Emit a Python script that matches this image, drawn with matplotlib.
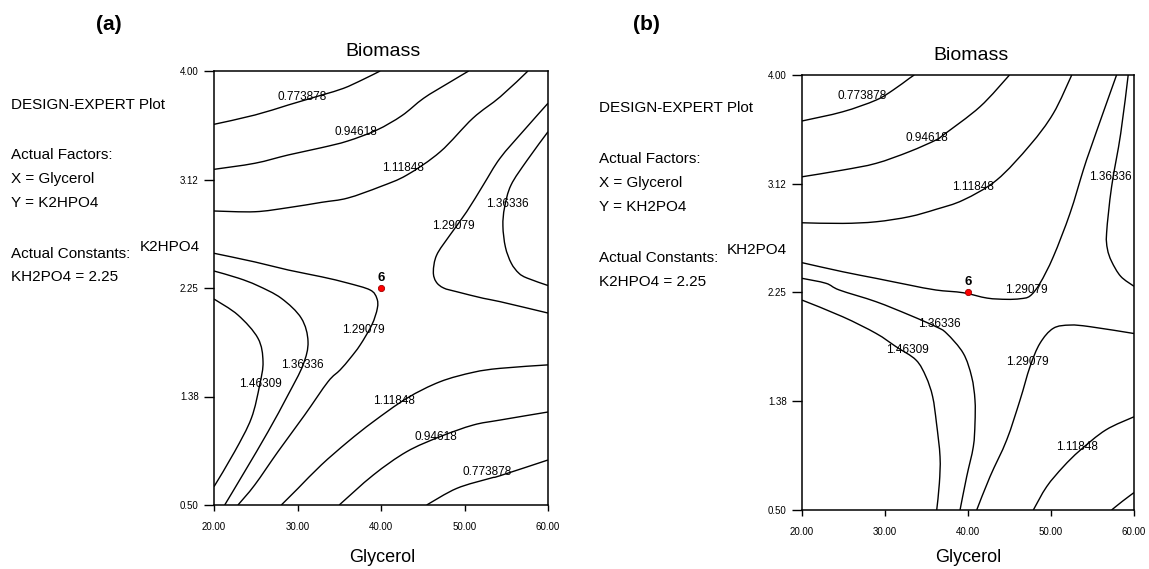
import matplotlib.pyplot as plt
from matplotlib.path import Path
from matplotlib.patches import PathPatch

plt.rcParams['font.family'] = ['Liberation Sans', 'DejaVu Sans']

# contour levels printed by Design-Expert
levels = [0.773878, 0.94618, 1.11848, 1.29079, 1.36336, 1.46309]

x_ticks = [20, 30, 40, 50, 60]
x_tick_labels = ['20.00', '30.00', '40.00', '50.00', '60.00']
y_ticks = [0.5, 1.375, 2.25, 3.125, 4.0]
y_tick_labels = ['0.50', '1.38', '2.25', '3.12', '4.00']

# design point (run 6)
design_x = 40
design_y = 2.25
design_run = '6'

# ---- panel (a): X = Glycerol, Y = K2HPO4 (KH2PO4 = 2.25) ----
a_0773_top_x = [20, 24.9, 28.9, 32.9, 35.5, 37.8, 39.9]
a_0773_top_y = [3.57, 3.645, 3.726, 3.806, 3.86, 3.93, 4.0]
a_0946_top_x = [20, 24.9, 28.9, 32.9, 36.0, 39.5, 42.5, 45.1, 48.0, 50.5]
a_0946_top_y = [3.207, 3.256, 3.323, 3.382, 3.435, 3.524, 3.64, 3.78, 3.9, 4.0]
a_1118_top_x = [20, 24.9, 28.9, 32.9, 36.0, 39.9, 43.1, 47.1, 51.0, 54.3, 57.6]
a_1118_top_y = [2.871, 2.865, 2.898, 2.941, 2.975, 3.067, 3.161, 3.349, 3.619, 3.793, 4.0]
a_1291_left_x = [20, 24.9, 28.9, 32.9, 36.0, 38.7, 39.5, 39.56, 38.9, 37.5, 36.3,
                 35.1, 33.65, 30.86, 27.66, 24.87, 22.87]
a_1291_left_y = [2.53, 2.46, 2.395, 2.34, 2.29, 2.234, 2.167, 2.086, 1.952, 1.79, 1.683,
                 1.589, 1.494, 1.226, 0.93, 0.661, 0.5]
a_1363_left_x = [20, 22.9, 25.2, 28.06, 30.46, 31.26, 30.66, 28.86, 26.47, 23.67, 21.28]
a_1363_left_y = [2.387, 2.33, 2.27, 2.167, 2.006, 1.817, 1.629, 1.387, 1.091, 0.769, 0.5]
a_1463_x = [20, 22.87, 25.27, 25.87, 25.47, 24.47, 22.47, 20]
a_1463_y = [2.161, 2.032, 1.844, 1.656, 1.468, 1.199, 0.93, 0.648]
a_1118_low_x = [28.06, 30.06, 32.85, 36.05, 39.08, 43.08, 47.07, 51.05, 54.25, 60]
a_1118_low_y = [0.5, 0.634, 0.823, 1.011, 1.172, 1.36, 1.494, 1.57, 1.602, 1.63]
a_0946_low_x = [35.0, 39.08, 43.08, 47.07, 51.05, 54.25, 60]
a_0946_low_y = [0.5, 0.742, 0.93, 1.051, 1.145, 1.185, 1.25]
a_0773_low_x = [45.47, 49.07, 53.05, 54.25, 60]
a_0773_low_y = [0.5, 0.634, 0.715, 0.736, 0.863]
a_1291_right_x = [60, 57.1, 54.25, 52.25, 50.26, 48.26, 46.67, 46.27, 46.6, 47.5,
                  49.07, 52.25, 54.25, 60]
a_1291_right_y = [3.74, 3.52, 3.296, 3.081, 2.865, 2.677, 2.516, 2.381, 2.3, 2.25,
                  2.22, 2.167, 2.14, 2.048]
a_1363_right_x = [60, 57.5, 55.57, 54.8, 54.6, 54.9, 55.6, 56.5, 57.5, 60]
a_1363_right_y = [3.51, 3.28, 3.08, 2.9, 2.75, 2.58, 2.45, 2.37, 2.33, 2.27]

# ---- panel (b): X = Glycerol, Y = KH2PO4 (K2HPO4 = 2.25) ----
b_0773_x = [20, 24.9, 28.92, 31.0, 32.93, 33.53]
b_0773_y = [3.63, 3.704, 3.798, 3.88, 3.973, 4.0]
b_0946_x = [20, 24.9, 28.92, 32.93, 36.14, 37.02, 41.45, 45.0]
b_0946_y = [3.181, 3.235, 3.289, 3.383, 3.477, 3.517, 3.745, 4.0]
b_1118_top_x = [20, 24.9, 28.92, 32.93, 36.14, 39.43, 43.46, 47.47, 50.28, 52.5]
b_1118_top_y = [2.811, 2.806, 2.819, 2.86, 2.919, 2.994, 3.155, 3.436, 3.691, 4.0]
b_1291_top_x = [20, 24.9, 28.92, 32.93, 36.14, 39.43, 42.3, 44.66, 46.3, 47.47, 48.67,
                50.28, 52.29, 53.89, 54.7, 56.3, 57.9]
b_1291_top_y = [2.49, 2.417, 2.364, 2.31, 2.27, 2.248, 2.205, 2.195, 2.2, 2.222, 2.324,
                2.538, 2.887, 3.235, 3.396, 3.7, 4.0]
b_1363_left_x = [20, 22.89, 24.5, 28.92, 32.93, 36.14, 37.43, 39.43, 40.44, 40.84,
                 40.84, 40.64, 39.84, 39.04]
b_1363_left_y = [2.364, 2.324, 2.27, 2.176, 2.069, 1.975, 1.921, 1.761, 1.572, 1.385,
                 1.197, 1.009, 0.768, 0.5]
b_1463_x = [20, 24.9, 28.92, 31.33, 33.73, 34.94, 35.74, 36.2, 36.63, 36.55, 36.23]
b_1463_y = [2.189, 2.055, 1.921, 1.814, 1.707, 1.572, 1.412, 1.2, 0.929, 0.715, 0.5]
b_1291_low_x = [41.05, 42.65, 44.66, 46.27, 47.47, 48.67, 50.28, 52.29, 54.7, 60]
b_1291_low_y = [0.5, 0.768, 1.063, 1.385, 1.653, 1.841, 1.962, 1.988, 1.975, 1.92]
b_1363_right_x = [59.3, 58.4, 57.3, 56.7, 56.8, 57.3, 58.4, 60]
b_1363_right_y = [4.0, 3.53, 3.1, 2.73, 2.6, 2.5, 2.38, 2.30]
b_1118_low_x = [47.87, 49.48, 51.48, 53.5, 56.6, 60]
b_1118_low_y = [0.5, 0.688, 0.848, 0.98, 1.144, 1.25]
b_0946_low_x = [57.3, 58.6, 60]
b_0946_low_y = [0.5, 0.57, 0.64]

# (level, xs, ys, label spot)
a_lines = [
    (levels[0], a_0773_top_x, a_0773_top_y, (30.5, 3.79)),
    (levels[1], a_0946_top_x, a_0946_top_y, (37.0, 3.51)),
    (levels[2], a_1118_top_x, a_1118_top_y, (42.6, 3.215)),
    (levels[3], a_1291_left_x, a_1291_left_y, (37.9, 1.91)),
    (levels[4], a_1363_left_x, a_1363_left_y, (30.6, 1.63)),
    (levels[5], a_1463_x, a_1463_y, (25.5, 1.476)),
    (levels[2], a_1118_low_x, a_1118_low_y, (41.6, 1.335)),
    (levels[1], a_0946_low_x, a_0946_low_y, (46.6, 1.045)),
    (levels[0], a_0773_low_x, a_0773_low_y, (52.7, 0.77)),
    (levels[3], a_1291_right_x, a_1291_right_y, (48.7, 2.75)),
    (levels[4], a_1363_right_x, a_1363_right_y, (55.1, 2.93)),
]
b_lines = [
    (levels[0], b_0773_x, b_0773_y, (27.3, 3.83)),
    (levels[1], b_0946_x, b_0946_y, (35.0, 3.49)),
    (levels[2], b_1118_top_x, b_1118_top_y, (40.6, 3.10)),
    (levels[3], b_1291_top_x, b_1291_top_y, (47.0, 2.27)),
    (levels[4], b_1363_left_x, b_1363_left_y, (36.5, 2.0)),
    (levels[5], b_1463_x, b_1463_y, (32.7, 1.787)),
    (levels[3], b_1291_low_x, b_1291_low_y, (47.1, 1.69)),
    (levels[4], b_1363_right_x, b_1363_right_y, (57.2, 3.18)),
    (levels[2], b_1118_low_x, b_1118_low_y, (53.1, 1.01)),
    (levels[1], b_0946_low_x, b_0946_low_y, None),
]

W, H = 1149, 569
fig = plt.figure(figsize=(W / 100, H / 100), dpi=100)


def fx(px):
    return px / W


def fy(py):
    return 1 - py / H


def smooth_path(xs, ys):
    # cubic Bezier through the read points (Catmull-Rom tangents), drawn by matplotlib
    pts = list(zip(xs, ys))
    verts = [pts[0]]
    codes = [Path.MOVETO]
    n = len(pts)
    for i in range(n - 1):
        p0 = pts[max(i - 1, 0)]
        p1 = pts[i]
        p2 = pts[i + 1]
        p3 = pts[min(i + 2, n - 1)]
        c1 = (p1[0] + (p2[0] - p0[0]) / 6, p1[1] + (p2[1] - p0[1]) / 6)
        c2 = (p2[0] - (p3[0] - p1[0]) / 6, p2[1] - (p3[1] - p1[1]) / 6)
        verts += [c1, c2, p2]
        codes += [Path.CURVE4] * 3
    return Path(verts, codes)


def draw_panel(ax, lines):
    for lvl, xs, ys, spot in lines:
        ax.add_patch(PathPatch(smooth_path(xs, ys), fill=False, edgecolor='black', lw=1.0))
        if spot is not None:
            ax.text(spot[0], spot[1], f'{lvl:g}', fontsize=8.5, ha='center', va='center')
    ax.plot([design_x], [design_y], 'o', ms=4.5, mfc='red', mec='#a00000', mew=0.6)
    ax.annotate(design_run, (design_x, design_y), xytext=(0, 3), textcoords='offset points',
                ha='center', va='bottom', fontsize=9.5, fontweight='bold')
    ax.set_xlim(20, 60)
    ax.set_ylim(0.5, 4.0)
    ax.set_xticks(x_ticks)
    ax.set_xticklabels(x_tick_labels, fontsize=7)
    ax.set_yticks(y_ticks)
    ax.set_yticklabels(y_tick_labels, fontsize=7)
    ax.tick_params(axis='x', direction='out', length=4, width=1, pad=8)
    ax.tick_params(axis='y', direction='out', length=7, width=1, pad=4)
    for sp in ax.spines.values():
        sp.set_linewidth(1.1)


ax_a = fig.add_axes([fx(214), fy(505), 334 / W, 434 / H])
ax_b = fig.add_axes([fx(802), fy(510), 332 / W, 435 / H])
draw_panel(ax_a, a_lines)
draw_panel(ax_b, b_lines)

# panel (a) text
fig.text(fx(109), fy(25), '(a)', fontsize=15, fontweight='bold', ha='center', va='center')
fig.text(fx(383), fy(52), 'Biomass', fontsize=14, ha='center', va='center')
fig.text(fx(382), fy(557), 'Glycerol', fontsize=13, ha='center', va='center')
fig.text(fx(200), fy(247), 'K2HPO4', fontsize=11, ha='right', va='center')
a_notes = [('DESIGN-EXPERT Plot', 105), ('Actual Factors:', 155), ('X = Glycerol', 179),
           ('Y = K2HPO4', 203), ('Actual Constants:', 254), ('KH2PO4 = 2.25', 277)]
for s, py in a_notes:
    fig.text(fx(11), fy(py), s, fontsize=11, ha='left', va='center')

# panel (b) text
fig.text(fx(646), fy(25), '(b)', fontsize=15, fontweight='bold', ha='center', va='center')
fig.text(fx(971), fy(55), 'Biomass', fontsize=14, ha='center', va='center')
fig.text(fx(968), fy(557), 'Glycerol', fontsize=13, ha='center', va='center')
fig.text(fx(787), fy(250), 'KH2PO4', fontsize=11, ha='right', va='center')
b_notes = [('DESIGN-EXPERT Plot', 108), ('Actual Factors:', 159), ('X = Glycerol', 183),
           ('Y = KH2PO4', 207), ('Actual Constants:', 258), ('K2HPO4 = 2.25', 282)]
for s, py in b_notes:
    fig.text(fx(599), fy(py), s, fontsize=11, ha='left', va='center')

fig.savefig('out.png', dpi=100)
